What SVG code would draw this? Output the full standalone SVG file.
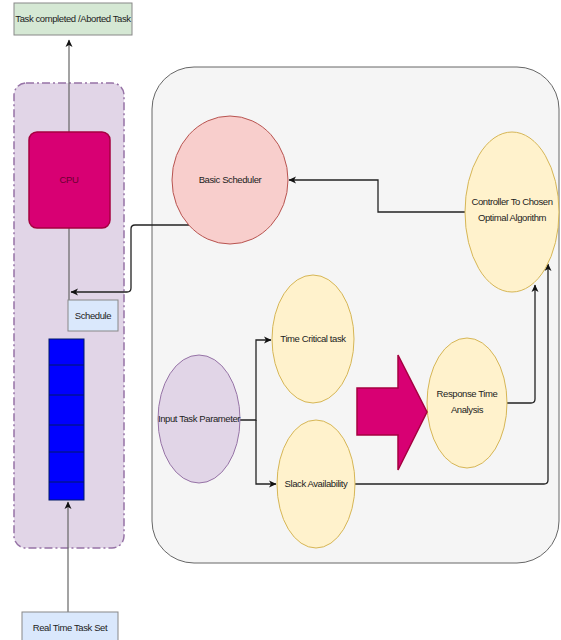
<svg xmlns="http://www.w3.org/2000/svg" width="561" height="640" viewBox="0 0 561 640">
<defs>
<marker id="ah" markerWidth="8" markerHeight="8" refX="7" refY="4" orient="auto" markerUnits="userSpaceOnUse">
<path d="M0,0.5 L7.5,4 L0,7.5 L2,4 Z" fill="#111"/>
</marker>
</defs>
<style>
text{font-family:"Liberation Sans",Arial,sans-serif;font-size:9.5px;fill:#222;text-anchor:middle;letter-spacing:-0.4px}
.yel{fill:#fff2cc;stroke:#d6b656;stroke-width:1}
.lbl{stroke:#888;stroke-width:1}
.con{fill:none;stroke:#222;stroke-width:1.3}
.gcon{fill:none;stroke:#666;stroke-width:1.2}
</style>
<rect width="561" height="640" fill="#ffffff"/>

<g id="container-right">
<rect x="152" y="67" width="407" height="496" rx="42" fill="#f5f5f5" stroke="#666" stroke-width="1"/>
</g>
<g id="container-left">
<rect x="14" y="83" width="110" height="465" rx="12" fill="#e1d5e7" stroke="#9673a6" stroke-width="1.5" stroke-dasharray="8,3,2,3"/>
</g>

<g id="connectors">
<path class="gcon" d="M69,132 L69,40" marker-end="url(#ah)"/>
<path class="gcon" d="M69,228 L69,300"/>
<path class="con" d="M190,225 L135,225 Q131,225 131,229 L131,288 Q131,292 127,292 L71,292" marker-end="url(#ah)"/>
<path class="gcon" d="M68,612 L68,502" marker-end="url(#ah)"/>
<path class="con" d="M465,212 L378,212 L378,180 L289,180" marker-end="url(#ah)"/>
<path class="con" d="M240,420 L256,420 L256,340 L271,340" marker-end="url(#ah)"/>
<path class="con" d="M256,420 L256,484 L276,484" marker-end="url(#ah)"/>
<path class="con" d="M507,403 L531,403 Q535,403 535,399 L535,285" marker-end="url(#ah)"/>
<path class="con" d="M355,484 L544,484 Q548,484 548,480 L548,264" marker-end="url(#ah)"/>
</g>

<g id="task-completed">
<rect class="lbl" x="14" y="3" width="118" height="32" fill="#d5e8d4"/>
<text x="73" y="22">Task completed /Aborted Task</text>
</g>
<g id="cpu">
<rect x="29" y="132" width="81" height="96" rx="8" fill="#d80073" stroke="#a50040" stroke-width="1.5"/>
<text x="69" y="183" style="fill:#6a0030">CPU</text>
</g>
<g id="schedule">
<rect class="lbl" x="68" y="300" width="50" height="31" fill="#dae8fc"/>
<text x="93" y="319">Schedule</text>
</g>
<g id="queue">
<rect x="49" y="339" width="35" height="161" fill="#0000ff" stroke="#001a66" stroke-width="1"/>
<path d="M49,365 H84 M49,395 H84 M49,425 H84 M49,452 H84 M49,482 H84" stroke="#001a66" stroke-width="1"/>
</g>
<g id="real-time-task-set">
<rect class="lbl" x="22" y="612" width="96" height="32" fill="#dae8fc"/>
<text x="70" y="631">Real Time Task Set</text>
</g>

<g id="basic-scheduler">
<ellipse cx="230" cy="180" rx="58" ry="64" fill="#f8cecc" stroke="#b85450" stroke-width="1"/>
<text x="230" y="183">Basic Scheduler</text>
</g>
<g id="controller">
<ellipse class="yel" cx="512" cy="212" rx="47" ry="80"/>
<text x="512" y="205">Controller To Chosen</text>
<text x="512" y="221">Optimal Algorithm</text>
</g>
<g id="time-critical">
<ellipse class="yel" cx="313" cy="339" rx="41" ry="64"/>
<text x="313" y="342">Time Critical task</text>
</g>
<g id="slack">
<ellipse class="yel" cx="316" cy="484" rx="39" ry="64"/>
<text x="316" y="487">Slack Availability</text>
</g>
<g id="input-task">
<ellipse cx="199" cy="419" rx="41" ry="64" fill="#e1d5e7" stroke="#9673a6" stroke-width="1"/>
<text x="199" y="422">Input Task Parameter</text>
</g>
<g id="response-time">
<ellipse class="yel" cx="467" cy="403" rx="40" ry="65"/>
<text x="467" y="397">Response Time</text>
<text x="467" y="413">Analysis</text>
</g>
<g id="big-arrow">
<path d="M357,388 L398,388 L398,355 L427,412 L398,470 L398,435 L357,435 Z" fill="#d80073" stroke="#a50040" stroke-width="1.5"/>
</g>
</svg>
